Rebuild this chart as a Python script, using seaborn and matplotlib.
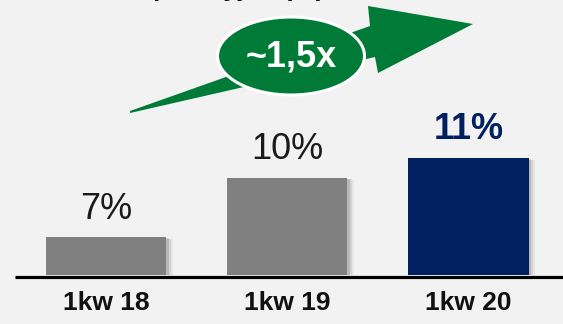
import matplotlib
matplotlib.use("Agg")
import matplotlib.pyplot as plt
import matplotlib.patheffects as pe
from matplotlib.lines import Line2D
from matplotlib.patches import Ellipse, Polygon
import pandas as pd
import seaborn as sns

# Data
quarters = ["1kw 18", "1kw 19", "1kw 20"]
share = [7, 10, 11]
value_labels = ["7%", "10%", "11%"]
bar_colors = ["#808080", "#808080", "#002060"]
label_colors = ["#1a1a1a", "#1a1a1a", "#002060"]
label_weights = ["normal", "normal", "bold"]
growth_text = "~1,5x"
title_text = "Marża operacyjna (%)"

BG = "#f2f2f2"
GREEN = "#007A37"

sns.set_theme(style="white")
plt.rcParams["font.family"] = ["Liberation Sans", "DejaVu Sans"]

W, H = 563, 324
fig = plt.figure(figsize=(W / 100, H / 100), dpi=100, facecolor=BG)
base_px = 275  # baseline of the bars, pixels from top
ax = fig.add_axes([0, (H - base_px) / H, 1, base_px / H])
ax.set_facecolor(BG)

df = pd.DataFrame({"quarter": quarters, "share": share})
sns.barplot(data=df, x="quarter", y="share", hue="quarter", palette=bar_colors,
            saturation=1, width=0.663, legend=False, ax=ax,
            edgecolor="none", linewidth=0)

for bar in ax.patches:
    bar.set_path_effects([
        pe.SimplePatchShadow(offset=(5, -1.5), shadow_rgbFace="k", alpha=0.05),
        pe.SimplePatchShadow(offset=(3.5, -1), shadow_rgbFace="k", alpha=0.09),
        pe.SimplePatchShadow(offset=(2, -0.5), shadow_rgbFace="k", alpha=0.14),
        pe.Normal(),
    ])

ax.set_ylim(5.1, 18.99)
ax.set_xlim(-0.588, 2.522)
sns.despine(ax=ax, left=True, bottom=True, top=True, right=True)
ax.set_yticks([])
ax.set_xlabel("")
ax.set_ylabel("")
ax.tick_params(axis="x", length=0, pad=11.5)
for t in ax.get_xticklabels():
    t.set_fontsize(19)
    t.set_fontweight("bold")
    t.set_color("#111111")

for i, (v, lbl) in enumerate(zip(share, value_labels)):
    ax.annotate(lbl, (i, v), xytext=(0, 13.5), textcoords="offset points",
                ha="center", va="baseline", fontsize=26,
                color=label_colors[i], fontweight=label_weights[i])

# Baseline rule
fig.add_artist(Line2D([15 / W, 1], [1 - 276.5 / H] * 2, color="black", lw=2.3,
                      solid_capstyle="butt"))

# Growth arrow (pixel outline, converted to figure fraction)
arrow_px = [(130, 111), (370, 26), (368, 6), (473, 24), (378, 73), (375, 57), (130, 113)]
arrow = Polygon([(x / W, 1 - y / H) for x, y in arrow_px], closed=True,
                transform=fig.transFigure, facecolor=GREEN, edgecolor="none")
fig.add_artist(arrow)

oval = Ellipse((291 / W, 1 - 56 / H), 147 / W, 78 / H, transform=fig.transFigure,
               facecolor=GREEN, edgecolor="white", lw=2.2)
fig.add_artist(oval)
fig.text(291 / W, 1 - 57 / H, growth_text, ha="center", va="center",
         fontsize=26, fontweight="bold", color="white")

# Chart heading, mostly beyond the top edge
fig.text(190 / W, 1 + 4.2 / H, title_text, ha="center", va="baseline",
         fontsize=19, fontweight="bold", color="#111111")

fig.savefig("out.png", dpi=100, facecolor=BG)
